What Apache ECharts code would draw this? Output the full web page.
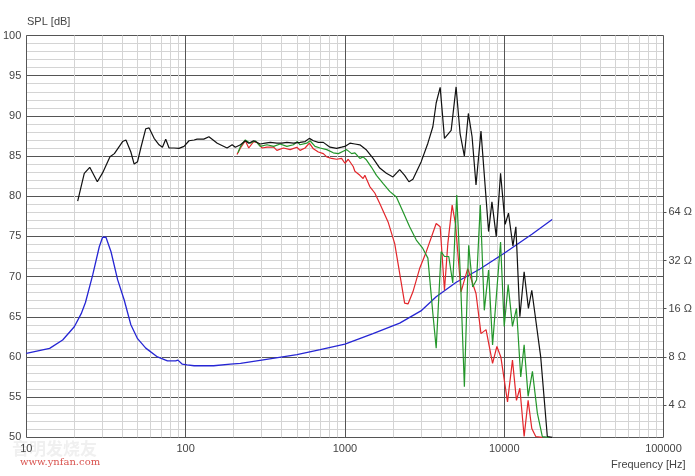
<!DOCTYPE html>
<html>
<head>
<meta charset="utf-8">
<script src="https://cdn.jsdelivr.net/npm/echarts@6/dist/echarts.min.js"></script>
<style>
html,body{margin:0;padding:0;background:#fff;}
#chart{width:695px;height:476px;}
</style>
</head>
<body>
<div id="chart"></div>
<script>
// ---- data (frequency Hz, value) ----
const freqTicks = [10, 100, 1000, 10000, 100000];
const freqMinorTicks = [20,30,40,50,60,70,80,90,200,300,400,500,600,700,800,900,2000,3000,4000,5000,6000,7000,8000,9000,20000,30000,40000,50000,60000,70000,80000,90000];
const splTicks = [50, 55, 60, 65, 70, 75, 80, 85, 90, 95, 100];
const impTicks = [4, 8, 16, 32, 64];

const splBlack = [[21.0,79.4],[23.1,82.85],[25.0,83.6],[27.9,81.8],[30.1,82.9],[33.5,84.9],[35.7,85.3],[40.2,86.8],[42.2,87.0],[45.3,85.5],[47.5,84.0],[49.9,84.3],[52.3,86.0],[56.2,88.4],[59.0,88.5],[63.4,87.2],[68.1,86.4],[71.5,86.1],[75.0,87.1],[78.7,86.0],[84.6,86.0],[90.9,85.96],[97.7,86.2],[105,86.9],[113,87.0],[118,87.1],[130,87.1],[140,87.4],[158,86.6],[182,86.0],[196,86.4],[205,86.1],[221,86.4],[237,86.9],[249,86.6],[267,86.9],[294,86.5],[316,86.6],[340,86.7],[374,86.6],[402,86.6],[432,86.7],[475,86.6],[523,86.7],[562,86.8],[598,87.2],[634,86.9],[681,86.7],[732,86.7],[806,86.1],[887,85.96],[953,86.1],[1000,86.2],[1075,86.6],[1155,86.5],[1241,86.4],[1367,85.75],[1503,84.7],[1655,83.5],[1821,82.85],[2003,82.4],[2207,83.3],[2371,82.6],[2523,81.8],[2673,82.1],[3013,84.3],[3318,86.6],[3565,88.65],[3741,91.6],[3963,93.55],[4217,87.2],[4645,88.2],[4989,93.6],[5285,87.8],[5623,85.0],[5957,90.3],[6285,87.4],[6653,81.4],[7148,88.1],[7980,75.6],[8375,79.3],[8913,75.0],[9487,82.85],[10140,76.5],[10640,77.9],[11340,73.8],[11840,76.2],[12540,65.0],[13340,70.6],[14190,66.05],[14900,68.3],[16950,60.0],[18650,50.1],[20060,50.0]];

const splRed = [[210,85.2],[221,86.0],[237,86.9],[249,86.0],[267,86.8],[281,86.7],[302,86.0],[324,86.1],[357,86.1],[374,85.7],[411,86.0],[453,85.8],[499,86.1],[523,85.7],[562,86.0],[598,86.6],[634,85.9],[681,85.5],[732,85.3],[769,84.9],[826,84.7],[887,84.6],[953,84.7],[1000,84.1],[1049,84.6],[1127,83.7],[1155,83.1],[1241,82.6],[1301,82.2],[1334,82.6],[1433,81.2],[1540,80.4],[1655,79.1],[1866,76.8],[2054,74.1],[2207,70.4],[2371,66.7],[2490,66.6],[2673,68.1],[2944,71.0],[3243,73.1],[3741,76.6],[3963,76.2],[4217,68.3],[4427,74.1],[4713,78.9],[4941,76.6],[5358,68.1],[5899,71.0],[6653,67.9],[7148,62.9],[7691,63.4],[8452,59.2],[8995,61.3],[9525,60.0],[10490,54.4],[11270,59.6],[11940,54.6],[12540,56.1],[13340,50.1],[14130,54.6],[14900,51.1],[15780,50.1],[17340,50.0]];

const splGreen = [[213,85.4],[221,86.2],[237,87.0],[254,86.6],[274,86.9],[294,86.2],[324,86.4],[357,86.2],[392,86.5],[432,86.2],[475,86.4],[503,86.8],[523,86.4],[576,86.6],[604,86.9],[649,86.2],[698,86.0],[769,85.8],[845,85.4],[909,85.3],[976,85.6],[1025,85.8],[1102,85.3],[1155,85.4],[1241,84.7],[1301,84.9],[1367,84.5],[1469,83.6],[1578,82.6],[1734,81.6],[1911,80.6],[2104,79.9],[2312,78.1],[2548,76.2],[2806,74.55],[3084,73.5],[3318,72.3],[3565,65.4],[3741,61.1],[4018,73.1],[4217,72.5],[4487,72.5],[4753,69.2],[5035,80.15],[5309,70.0],[5623,56.3],[5983,73.9],[6339,68.7],[6714,69.6],[7079,78.9],[7499,65.8],[7980,70.8],[8452,61.5],[9487,74.3],[10000,63.8],[10590,69.0],[11270,63.8],[11940,66.05],[12700,57.5],[13340,61.5],[14130,55.1],[15040,58.2],[16150,53.0],[17340,50.1],[19110,50.0]];

const impedance = [[10,8.43],[14,9.05],[16.9,10.2],[20,12.35],[22.1,14.9],[23.5,17.5],[26.1,26.0],[28.7,39.0],[30.1,44.7],[31.6,44.7],[34,36.3],[37.4,24.3],[41.1,18.2],[45.3,12.7],[49.9,10.4],[56.2,9.08],[66.6,8.0],[76.9,7.55],[86.6,7.55],[89.5,7.64],[95.3,7.21],[102,7.13],[113,7.05],[150,7.05],[191,7.21],[221,7.29],[300,7.64],[500,8.28],[700,8.88],[1000,9.62],[1500,11.2],[2207,13.0],[3000,15.5],[3741,19.0],[5000,23.4],[7000,28.2],[10000,35.5],[15000,46.9],[20000,57.7]];

// ---- chart ----
const txt = {color:'#444', fontFamily:'Liberation Sans, Arial, sans-serif', fontSize:11};
const chart = echarts.init(document.getElementById('chart'), null, {renderer:'canvas'});
const zMin = 4 * Math.pow(2, -4/6);
const zMax = 4 * Math.pow(2, 46/6);
chart.setOption({
  animation:false,
  backgroundColor:'#fff',
  grid:{left:25, right:29, top:35.5, bottom:38.7, containLabel:false},
  xAxis:[
    {type:'log', logBase:10, min:10, max:100000,
     axisLine:{show:false}, axisTick:{show:false, customValues:freqTicks},
     axisLabel:{customValues:freqTicks, margin:6, formatter:function(v){return String(Math.round(v));}, ...txt},
     splitLine:{show:true, lineStyle:{color:'#555', width:1}}, z:3},
    {type:'log', logBase:10, min:10, max:100000, gridIndex:0,
     axisLine:{show:false}, axisTick:{show:false, customValues:freqMinorTicks},
     axisLabel:{show:false},
     splitLine:{show:true, lineStyle:{color:'#d4d4d4', width:1}}, z:1}
  ],
  yAxis:[
    {type:'value', min:50, max:100, interval:5,
     axisLine:{show:false}, axisTick:{show:false},
     axisLabel:{margin:5, ...txt},
     splitLine:{show:true, lineStyle:{color:'#555', width:1}},
     minorTick:{show:false, splitNumber:5},
     minorSplitLine:{show:true, lineStyle:{color:'#d4d4d4', width:1}}},
    {type:'log', logBase:2, min:zMin, max:zMax, position:'right',
     axisLine:{show:false},
     axisTick:{show:true, inside:false, length:3, customValues:impTicks, lineStyle:{color:'#555'}},
     axisLabel:{customValues:impTicks, margin:5, formatter:'{value} Ω', ...txt},
     splitLine:{show:false}}
  ],
  series:[
    {type:'line', name:'impedance', xAxisIndex:0, yAxisIndex:1, data:impedance, showSymbol:false, symbol:'none',
     lineStyle:{color:'#2626d4', width:1.3}, z:5},
    {type:'line', name:'red', xAxisIndex:0, yAxisIndex:0, data:splRed, showSymbol:false, symbol:'none',
     lineStyle:{color:'#e3262b', width:1.2}, z:6},
    {type:'line', name:'green', xAxisIndex:0, yAxisIndex:0, data:splGreen, showSymbol:false, symbol:'none',
     lineStyle:{color:'#23962a', width:1.2}, z:7},
    {type:'line', name:'black', xAxisIndex:0, yAxisIndex:0, data:splBlack, showSymbol:false, symbol:'none',
     lineStyle:{color:'#111', width:1.2}, z:8}
  ],
  graphic:[
    {type:'text', left:27, top:16, style:{text:'SPL [dB]', fill:'#444', font:'11px "Liberation Sans", Arial, sans-serif'}},
    {type:'text', left:611, top:459, style:{text:'Frequency [Hz]', fill:'#444', font:'11px "Liberation Sans", Arial, sans-serif'}},
    {type:'text', left:12, top:440, z:-1, style:{text:'音明发烧友', fill:'#f0f0f0', font:'bold 17px "Noto Sans CJK SC", sans-serif'}},
    {type:'text', left:20, top:457, style:{text:'www.ynfan.com', fill:'#d9534f', font:'10px "DejaVu Serif", serif'}}
  ]
});
</script>
</body>
</html>
